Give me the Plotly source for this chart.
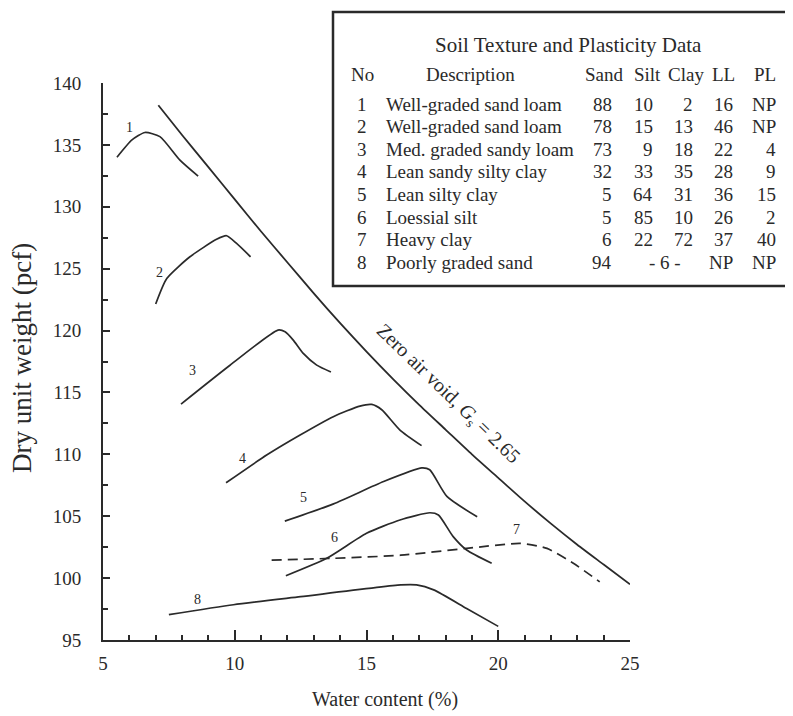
import plotly.graph_objects as go

# ---------------- data ----------------
zav_w = [7.1, 8, 9, 10, 11, 12, 13, 14, 15, 16, 17, 18, 19, 20, 21, 22, 23, 24, 25]
zav_gd = [138.2, 135.8, 133.2, 130.6, 128.0, 125.5, 123.0, 120.6, 118.3, 116.1,
          114.0, 112.0, 110.0, 108.1, 106.2, 104.4, 102.7, 101.1, 99.5]

c1_w = [5.53, 6.1, 6.59, 7.16, 7.92, 8.61]
c1_gd = [134.0, 135.4, 136.0, 135.67, 133.77, 132.48]
c2_w = [7.0, 7.42, 8.3, 9.31, 9.69, 10.07, 10.6]
c2_gd = [122.14, 124.2, 125.96, 127.37, 127.66, 127.04, 125.96]
c3_w = [7.96, 9.82, 11.64, 11.91, 12.22, 12.6, 13.11, 13.65]
c3_gd = [114.06, 117.2, 120.04, 119.9, 119.23, 118.15, 117.21, 116.65]
c4_w = [9.67, 11.21, 12.48, 13.74, 14.75, 15.2, 15.58, 16.27, 17.09]
c4_gd = [107.7, 109.94, 111.56, 113.04, 113.9, 114.03, 113.6, 111.96, 110.7]
c5_w = [11.9, 13.75, 15.65, 17.1, 17.4, 18.05, 19.2]
c5_gd = [104.6, 106.0, 107.8, 108.9, 108.75, 106.6, 104.95]
c6_w = [11.94, 13.49, 15.0, 16.27, 17.41, 17.73, 18.29, 18.8, 19.75]
c6_gd = [100.19, 101.6, 103.62, 104.7, 105.28, 105.1, 103.35, 102.27, 101.2]
c7_w = [11.4, 13.75, 16.3, 18.8, 20.85, 21.85, 22.85, 23.85]
c7_gd = [101.45, 101.6, 101.85, 102.4, 102.8, 102.4, 101.2, 99.7]
c8_w = [7.5, 9.95, 12.5, 16.3, 16.9, 17.55, 18.8, 20.0]
c8_gd = [97.05, 97.85, 98.5, 99.45, 99.45, 99.05, 97.55, 96.1]

curve_ids = ["1", "2", "3", "4", "5", "6", "7", "8"]
label_w = [6.02, 7.16, 8.38, 10.31, 12.59, 13.8, 20.71, 8.57]
label_gd = [136.4, 124.7, 116.8, 109.7, 106.55, 103.25, 103.9, 98.25]

x_ticks = [5, 10, 15, 20, 25]
y_ticks = [95, 100, 105, 110, 115, 120, 125, 130, 135, 140]

table_title = "Soil Texture and Plasticity Data"
table_headers = ["No", "Description", "Sand", "Silt", "Clay", "LL", "PL"]
table_no = ["1", "2", "3", "4", "5", "6", "7", "8"]
table_desc = ["Well-graded sand loam", "Well-graded sand loam", "Med. graded sandy loam",
              "Lean sandy silty clay", "Lean silty clay", "Loessial silt",
              "Heavy clay", "Poorly graded sand"]
table_sand = ["88", "78", "73", "32", "5", "5", "6", "94"]
table_silt = ["10", "15", "9", "33", "64", "85", "22", ""]
table_clay = ["2", "13", "18", "35", "31", "10", "72", ""]
table_silt_clay_combined = ["", "", "", "", "", "", "", "- 6 -"]
table_ll = ["16", "46", "22", "28", "36", "26", "37", "NP"]
table_pl = ["NP", "NP", "4", "9", "15", "2", "40", "NP"]

# ---------------- figure ----------------
FONT = "Liberation Serif, Times New Roman, serif"
INK = "#2a2a2a"
OFF = 8  # page body margin of the html page
SW, SH = 793, 716               # screen size
L, R, T, B = 103, 630, 83, 640  # plot area in screen pixels


def xp(px):
    return (px - L) / (R - L)


def yp(py):
    return (B - py) / (B - T)


fig = go.Figure()

fig.add_trace(go.Scatter(x=zav_w, y=zav_gd, mode="lines",
                         line=dict(color=INK, width=1.8, shape="spline", smoothing=0.6),
                         showlegend=False, hoverinfo="skip"))

curves = [(c1_w, c1_gd), (c2_w, c2_gd), (c3_w, c3_gd), (c4_w, c4_gd),
          (c5_w, c5_gd), (c6_w, c6_gd), (c7_w, c7_gd), (c8_w, c8_gd)]
for i, (w, g) in enumerate(curves):
    dash = "10px,6px" if curve_ids[i] == "7" else "solid"
    fig.add_trace(go.Scatter(x=w, y=g, mode="lines", name=curve_ids[i],
                             line=dict(color=INK, width=1.7, shape="spline",
                                       smoothing=0.6, dash=dash),
                             showlegend=False, hoverinfo="skip"))

annotations = []
for cid, lw, lg in zip(curve_ids, label_w, label_gd):
    annotations.append(dict(x=lw, y=lg, xref="x", yref="y", text=cid, showarrow=False,
                            xanchor="center", yanchor="middle",
                            font=dict(family=FONT, size=14, color=INK)))

# zero air void label
annotations.append(dict(x=18.09, y=114.8, xref="x", yref="y",
                        text="Zero air void, <i>G</i><sub>s</sub> = 2.65",
                        showarrow=False, textangle=44, xanchor="center", yanchor="middle",
                        font=dict(family=FONT, size=20, color=INK)))

# axis titles
annotations.append(dict(x=xp(385), y=yp(699), xref="paper", yref="paper",
                        text="Water content (%)", showarrow=False,
                        xanchor="center", yanchor="middle",
                        font=dict(family=FONT, size=20, color=INK)))
annotations.append(dict(x=xp(22), y=yp(358), xref="paper", yref="paper",
                        text="Dry unit weight (pcf)", showarrow=False, textangle=-90,
                        xanchor="center", yanchor="middle",
                        font=dict(family=FONT, size=27, color=INK)))

# table
TF = dict(family=FONT, size=19, color=INK)
annotations.append(dict(x=xp(568), y=yp(45), xref="paper", yref="paper",
                        text=table_title, showarrow=False,
                        xanchor="center", yanchor="middle",
                        font=dict(family=FONT, size=21, color=INK)))
header_x = [362, 470, 604, 647, 686, 723, 765]
for hx, ht in zip(header_x, table_headers):
    annotations.append(dict(x=xp(hx), y=yp(75), xref="paper", yref="paper", text=ht,
                            showarrow=False, xanchor="center", yanchor="middle", font=TF))
row_y = [104, 126.5, 149, 171.5, 194.5, 217, 239.5, 262]
num_cols = [(table_sand, 614), (table_silt, 655), (table_clay, 695),
            (table_ll, 735), (table_pl, 778)]
for r in range(len(table_no)):
    yy = yp(row_y[r])
    annotations.append(dict(x=xp(362), y=yy, xref="paper", yref="paper", text=table_no[r],
                            showarrow=False, xanchor="center", yanchor="middle", font=TF))
    annotations.append(dict(x=xp(384), y=yy, xref="paper", yref="paper", text=table_desc[r],
                            showarrow=False, xanchor="left", yanchor="middle", font=TF))
    for col, cx in num_cols:
        if col[r]:
            annotations.append(dict(x=xp(cx), y=yy, xref="paper", yref="paper", text=col[r],
                                    showarrow=False, xanchor="right", yanchor="middle",
                                    font=TF))
    if table_silt_clay_combined[r]:
        annotations.append(dict(x=xp(665), y=yy, xref="paper", yref="paper",
                                text=table_silt_clay_combined[r],
                                showarrow=False, xanchor="center", yanchor="middle",
                                font=TF))

shapes = [dict(type="rect", xref="paper", yref="paper",
               x0=xp(333), x1=xp(800), y0=yp(286), y1=yp(12),
               line=dict(color=INK, width=2.5), fillcolor="white", layer="above")]

fig.update_layout(
    width=SW - OFF, height=SH - OFF,
    margin=dict(l=L - OFF, r=SW - R, t=T - OFF, b=SH - B, pad=0, autoexpand=False),
    paper_bgcolor="white", plot_bgcolor="white",
    font=dict(family=FONT, color=INK),
    showlegend=False,
    annotations=annotations,
    shapes=shapes,
    xaxis=dict(range=[5, 25], showgrid=False, zeroline=False,
               showline=True, linecolor=INK, linewidth=2,
               ticks="inside", ticklen=10, tickwidth=1.6, tickcolor=INK,
               tickvals=x_ticks, ticklabelstandoff=5,
               tickfont=dict(family=FONT, size=19, color=INK),
               minor=dict(dtick=1, ticks="inside", ticklen=5, tickwidth=1.6, tickcolor=INK,
                          showgrid=False)),
    yaxis=dict(range=[95, 140], showgrid=False, zeroline=False,
               showline=True, linecolor=INK, linewidth=2,
               ticks="inside", ticklen=7, tickwidth=1.6, tickcolor=INK,
               tickvals=y_ticks, ticklabelstandoff=16,
               tickfont=dict(family=FONT, size=19, color=INK),
               minor=dict(dtick=2.5, ticks="inside", ticklen=5, tickwidth=1.6, tickcolor=INK,
                          showgrid=False)),
)

fig.write_html("out.html")
